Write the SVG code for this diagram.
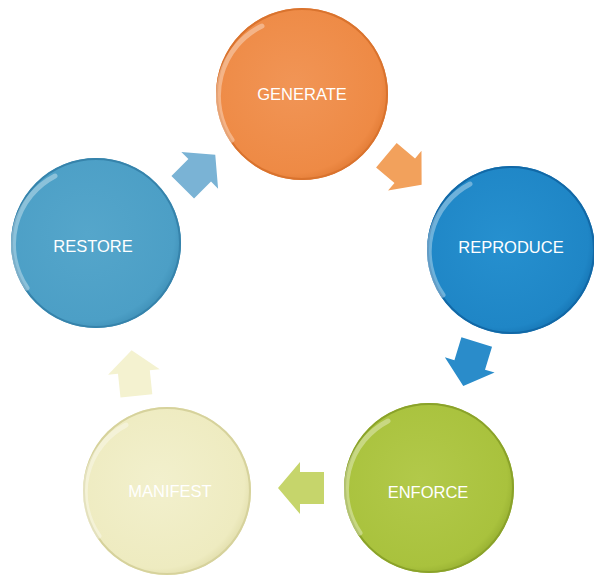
<svg xmlns="http://www.w3.org/2000/svg" width="594" height="580" viewBox="0 0 594 580">
<defs>
<style>
.lbl{font-family:"Liberation Sans",Arial,sans-serif;font-size:16.5px;fill:#ffffff;text-anchor:middle}
.rim{fill:none;stroke-width:2}
.hl{fill:none;stroke:#ffffff;stroke-width:5;stroke-linecap:round;opacity:0.35}
</style>
<radialGradient id="gOr" cx="0.45" cy="0.45" r="0.6"><stop offset="0" stop-color="#F19556"/><stop offset="0.85" stop-color="#EE8A45"/><stop offset="1" stop-color="#DD7630"/></radialGradient>
<radialGradient id="gBl" cx="0.45" cy="0.45" r="0.6"><stop offset="0" stop-color="#2690CF"/><stop offset="0.85" stop-color="#1F86C6"/><stop offset="1" stop-color="#136FAE"/></radialGradient>
<radialGradient id="gSt" cx="0.45" cy="0.45" r="0.6"><stop offset="0" stop-color="#55A6CB"/><stop offset="0.85" stop-color="#4C9FC6"/><stop offset="1" stop-color="#3A8AB2"/></radialGradient>
<radialGradient id="gCr" cx="0.45" cy="0.45" r="0.6"><stop offset="0" stop-color="#F2F0CD"/><stop offset="0.85" stop-color="#EEEBC0"/><stop offset="1" stop-color="#DDD9A4"/></radialGradient>
<radialGradient id="gGr" cx="0.45" cy="0.45" r="0.6"><stop offset="0" stop-color="#B2C94A"/><stop offset="0.85" stop-color="#A9C23D"/><stop offset="1" stop-color="#8FA82C"/></radialGradient>
<path id="arr" d="M-23,-16 L1,-16 L1,-26 L23,0 L1,26 L1,16 L-23,16 Z"/>
</defs>
<rect width="594" height="580" fill="#ffffff"/>

<g id="connectors">
<use href="#arr" transform="translate(404,170) rotate(40)" fill="#F2A15C"/>
<use href="#arr" transform="translate(470,364) rotate(107)" fill="#2A8CCA"/>
<use href="#arr" transform="translate(301,488) rotate(180)" fill="#C6D56B"/>
<use href="#arr" transform="translate(134,373) rotate(-96)" fill="#F4F2D0"/>
<use href="#arr" transform="translate(199,171) rotate(-45)" fill="#7AB3D5"/>
</g>

<g id="generate">
<circle cx="302" cy="94" r="86" fill="url(#gOr)"/>
<circle cx="302" cy="94" r="85" class="rim" stroke="#D9732E"/>
<path d="M232,140 A78,78 0 0 1 262,26" class="hl"/>
<text x="302" y="100" class="lbl">GENERATE</text>
</g>

<g id="reproduce">
<circle cx="511" cy="250" r="84" fill="url(#gBl)"/>
<circle cx="511" cy="250" r="83" class="rim" stroke="#1268A6"/>
<path d="M443,295 A76,76 0 0 1 470,184" class="hl"/>
<text x="511" y="253" class="lbl">REPRODUCE</text>
</g>

<g id="enforce">
<circle cx="429" cy="488" r="85" fill="url(#gGr)"/>
<circle cx="429" cy="488" r="84" class="rim" stroke="#8AA22A"/>
<path d="M360,533 A77,77 0 0 1 388,421" class="hl"/>
<text x="428" y="498" class="lbl">ENFORCE</text>
</g>

<g id="manifest">
<circle cx="167" cy="491" r="84" fill="url(#gCr)"/>
<circle cx="167" cy="491" r="83" class="rim" stroke="#D6D29C"/>
<path d="M99,536 A76,76 0 0 1 126,425" class="hl"/>
<text x="170" y="497" class="lbl">MANIFEST</text>
</g>

<g id="restore">
<circle cx="96" cy="243" r="85" fill="url(#gSt)"/>
<circle cx="96" cy="243" r="84" class="rim" stroke="#3683AB"/>
<path d="M27,288 A77,77 0 0 1 55,176" class="hl"/>
<text x="93" y="252" class="lbl">RESTORE</text>
</g>
</svg>
